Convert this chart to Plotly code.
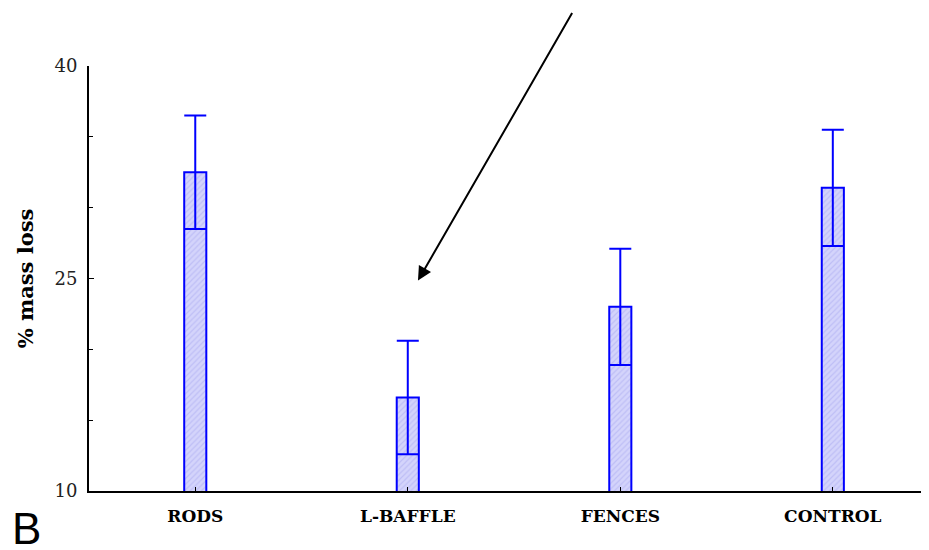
import plotly.graph_objects as go

categories = ["RODS", "L-BAFFLE", "FENCES", "CONTROL"]
mass_loss = [32.5, 16.6, 23.0, 31.4]
error = [4.0, 4.0, 4.1, 4.1]
y_tickvals = [10, 25, 40]
y_ticktext = ["10", "25", "40"]
y_minor = [15, 20, 30, 35]

xpos = list(range(len(categories)))

fig = go.Figure()
fig.add_trace(go.Bar(
    x=xpos, y=mass_loss, width=0.104,
    marker=dict(color="#d0d0fa", line=dict(color="#0000ff", width=2),
                pattern=dict(shape="/", fgcolor="#a8a8f0", bgcolor="#d4d4fb", size=4, solidity=0.3)),
    error_y=dict(type="data", array=error, visible=True, color="#0000ff", thickness=2, width=11),
))

fig.add_annotation(x=1.048, y=24.85, xref="x", yref="y", ax=155, ay=-269,
                   showarrow=True, arrowhead=2, arrowsize=1.4, arrowwidth=2, arrowcolor="black", text="")
fig.add_annotation(x=-0.092, y=-0.088, xref="paper", yref="paper", xanchor="left", yanchor="middle",
                   text="B", showarrow=False, font=dict(family="Liberation Sans, Arial", size=44, color="black"))

fig.update_layout(
    width=940, height=550,
    margin=dict(l=81, r=0, t=58, b=67),
    plot_bgcolor="white", paper_bgcolor="white",
    showlegend=False,
    xaxis=dict(range=[-0.5, 3.542], tickvals=xpos, ticktext=["<b>%s</b>" % c for c in categories],
               showline=True, linecolor="black", linewidth=2, ticks="inside", ticklen=4,
               tickcolor="black", showgrid=False, zeroline=False, ticklabelstandoff=9,
               tickfont=dict(family="DejaVu Serif", size=17, color="black")),
    yaxis=dict(range=[10, 40], tickvals=y_tickvals, ticktext=y_ticktext,
               showline=True, linecolor="black", linewidth=2, ticks="inside", ticklen=5,
               tickcolor="black", showgrid=False, zeroline=False, ticklabelstandoff=6,
               minor=dict(tickvals=y_minor, ticks="inside", ticklen=4, tickcolor="black", showgrid=False),
               tickfont=dict(family="DejaVu Serif", size=18, color="#222222"),
               title=dict(text="<b>% mass loss</b>", font=dict(family="DejaVu Serif", size=21, color="black"), standoff=15)),
)

fig.write_html("out.html")
